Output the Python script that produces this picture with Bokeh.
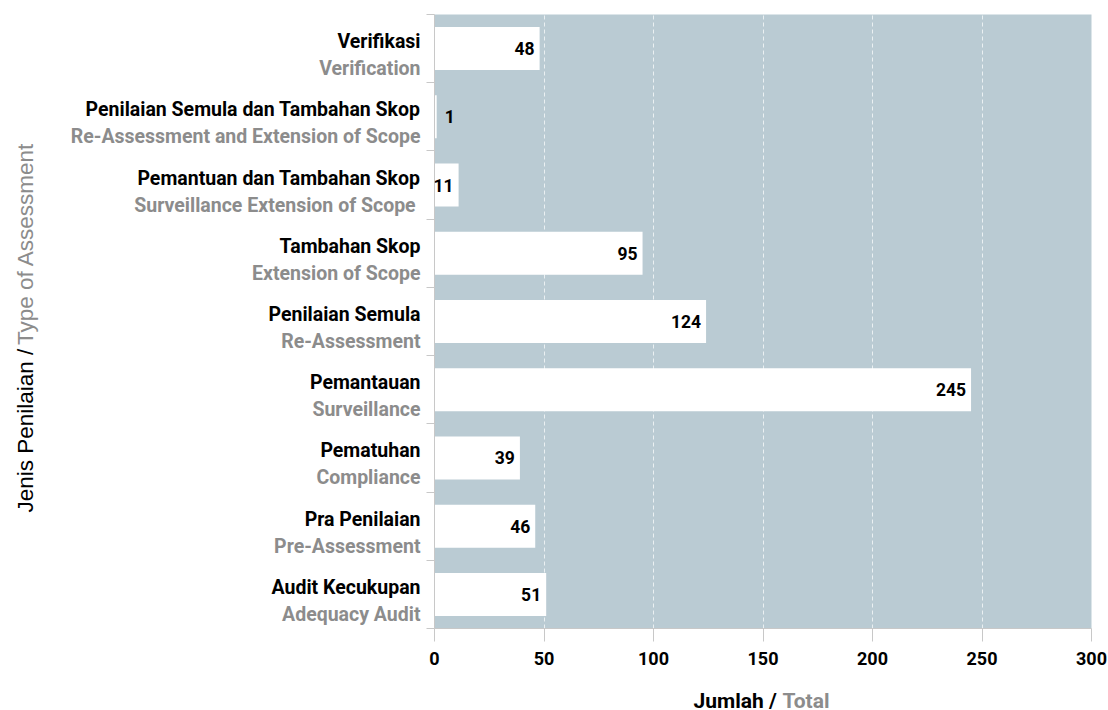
from bokeh.plotting import figure
from bokeh.models import ColumnDataSource, LabelSet, Range1d, FixedTicker
from bokeh.layouts import row, column
from bokeh.core.properties import value
from bokeh.embed import file_html
from bokeh.resources import INLINE

# ---- data (top to bottom) ----
names_ms = ["Verifikasi", "Penilaian Semula dan Tambahan Skop", "Pemantuan dan Tambahan Skop",
            "Tambahan Skop", "Penilaian Semula", "Pemantauan", "Pematuhan",
            "Pra Penilaian", "Audit Kecukupan"]
names_en = ["Verification", "Re-Assessment and Extension of Scope", "Surveillance  Extension of Scope",
            "Extension of Scope", "Re-Assessment", "Surveillance", "Compliance",
            "Pre-Assessment", "Adequacy Audit"]
values = [48, 1, 11, 95, 124, 245, 39, 46, 51]
x_ticks = [0, 50, 100, 150, 200, 250, 300]
x_title = ["Jumlah /", "Total"]
y_title = ["Jenis Penilaian /", "Type of Assessment"]

n = len(values)
pos = [n - 0.5 - i for i in range(n)]

# ---- layout constants (pixels) ----
WL, WM, HT, HB = 424, 684, 680, 30
TOP, BOTTOM = 14, 52                     # main frame borders
k = (HT - TOP - BOTTOM) / n              # px per category

BG = "#BACBD3"
GRAY = "#8C8C8C"
AX = "#C8C8C8"
FONT = "Roboto"


def blank(w, h, xr, yr, top=0, bottom=0):
    f = figure(width=w, height=h, output_backend="svg", toolbar_location=None, title=None,
               x_range=xr, y_range=yr, x_axis_location=None, y_axis_location=None,
               min_border=0, min_border_left=0, min_border_right=0,
               min_border_top=top, min_border_bottom=bottom)
    f.outline_line_color = None
    f.background_fill_color = "white"
    f.border_fill_color = "white"
    f.grid.visible = False
    return f


# ---- main chart ----
p = figure(width=WM, height=HT, output_backend="svg", toolbar_location=None, title=None,
           x_range=Range1d(0, 300), y_range=Range1d(0, n),
           min_border_left=10, min_border_right=17, min_border_top=TOP, min_border_bottom=BOTTOM)
p.background_fill_color = BG
p.border_fill_color = "white"
p.outline_line_color = None

src = ColumnDataSource(dict(y=pos, v=values, ms=names_ms, en=names_en))
p.hbar(y="y", right="v", left=0, height=0.63, source=src, fill_color="white", line_color=None)

p.ygrid.grid_line_color = None
p.xgrid.ticker = FixedTicker(ticks=x_ticks)
p.xgrid.grid_line_color = "white"
p.xgrid.grid_line_alpha = 0.7
p.xgrid.grid_line_dash = "4 3"

xa = p.xaxis[0]
xa.ticker = FixedTicker(ticks=x_ticks)
xa.axis_line_color = AX
xa.major_tick_line_color = AX
xa.major_tick_out = 13
xa.major_tick_in = 0
xa.minor_tick_line_color = None
xa.major_label_text_font = FONT
xa.major_label_text_font_style = "bold"
xa.major_label_text_font_size = "18px"
xa.major_label_text_color = "black"
xa.major_label_standoff = 10

ya = p.yaxis[0]
ya.ticker = FixedTicker(ticks=list(range(n + 1)))
ya.axis_line_color = AX
ya.major_tick_line_color = AX
ya.major_tick_out = 8
ya.major_tick_in = 0
ya.minor_tick_line_color = None
ya.major_label_text_font_size = "0px"
ya.major_label_standoff = 0
ya.major_label_overrides = {i: "" for i in range(n + 1)}

ins = [i for i, v in enumerate(values) if v >= 5]
outs = [i for i, v in enumerate(values) if v < 5]
src_in = ColumnDataSource(dict(y=[pos[i] for i in ins], v=[values[i] for i in ins],
                               t=[str(values[i]) for i in ins]))
src_out = ColumnDataSource(dict(y=[pos[i] for i in outs], v=[values[i] for i in outs],
                                t=[str(values[i]) for i in outs]))
p.add_layout(LabelSet(x="v", y="y", text="t", source=src_in, x_offset=-5,
                      text_align="right", text_baseline="middle", text_font=value(FONT),
                      text_font_style="bold", text_font_size="17.5px", text_color="black"))
p.add_layout(LabelSet(x="v", y="y", text="t", source=src_out, x_offset=8,
                      text_align="left", text_baseline="middle", text_font=value(FONT),
                      text_font_style="bold", text_font_size="17.5px", text_color="black"))

# ---- left panel: category labels + y title (same vertical scale as the chart) ----
L = blank(WL, HT, Range1d(0, WL), Range1d(0, n), top=TOP, bottom=BOTTOM)
L.text(x=WL - 4, y="y", text="ms", source=src, y_offset=-7, text_align="right",
       text_baseline="alphabetic", text_font=value(FONT), text_font_style="bold",
       text_font_size="19.5px", text_color="black")
L.text(x=WL - 4, y="y", text="en", source=src, y_offset=20, text_align="right",
       text_baseline="alphabetic", text_font=value(FONT), text_font_style="bold",
       text_font_size="19.5px", text_color=GRAY)
y_start = (HT - BOTTOM - 512) / k
y_end = (HT - BOTTOM - 142) / k
L.text(x=[25], y=[y_start], text=[y_title[0]], angle=1.5708,
       text_align="left", text_baseline="alphabetic", text_font=value("Liberation Sans"),
       text_font_size="22.5px", text_color="black")
L.text(x=[25], y=[y_end], text=[y_title[1]], angle=1.5708,
       text_align="right", text_baseline="alphabetic", text_font=value("Liberation Sans"),
       text_font_size="22.5px", text_color=GRAY)

# ---- bottom strip: x title ----
B = blank(WL + WM, HB, Range1d(0, WL + WM), Range1d(HB, 0))
B.text(x=[693], y=[20], text=[x_title[0]], text_align="left", text_baseline="alphabetic",
       text_font=value(FONT), text_font_style="bold", text_font_size="21px", text_color="black")
B.text(x=[829], y=[20], text=[x_title[1]], text_align="right", text_baseline="alphabetic",
       text_font=value(FONT), text_font_style="bold", text_font_size="21px", text_color=GRAY)

layout = column(row(L, p, spacing=0), B, spacing=0)
open("out.html", "w").write(file_html(layout, INLINE))
